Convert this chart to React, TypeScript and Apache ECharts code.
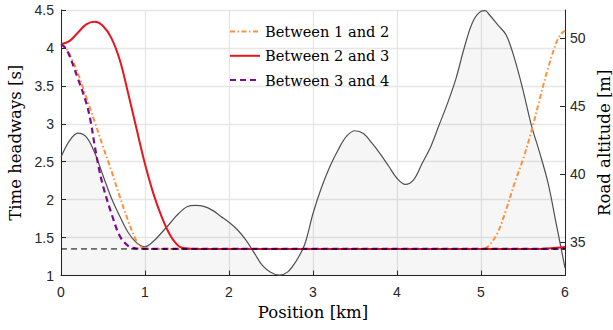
import React, { useEffect, useRef } from "react";
import * as echarts from "echarts";

// ---- data ----
const legendNames = ["Between 1 and 2", "Between 2 and 3", "Between 3 and 4"];

const orangeKm = [0, 0.05, 0.1, 0.2, 0.3, 0.4, 0.5, 0.6, 0.7, 0.8, 0.9, 0.95, 1.0, 1.1, 2, 3, 4, 5.0, 5.05, 5.1, 5.2, 5.3, 5.4, 5.5, 5.6, 5.7, 5.8, 5.9, 5.95, 6.0];
const orangeH = [4.05, 4.01, 3.92, 3.67, 3.35, 3.03, 2.7, 2.38, 2.04, 1.72, 1.45, 1.38, 1.355, 1.35, 1.35, 1.35, 1.35, 1.35, 1.36, 1.4, 1.57, 1.87, 2.22, 2.53, 2.9, 3.33, 3.74, 4.08, 4.18, 4.23];

const redKm = [0, 0.1, 0.2, 0.3, 0.4, 0.5, 0.6, 0.7, 0.8, 0.9, 1.0, 1.1, 1.2, 1.3, 1.4, 1.5, 1.6, 2, 3, 4, 5, 5.7, 5.8, 5.9, 6.0];
const redH = [4.05, 4.09, 4.2, 4.31, 4.345, 4.29, 4.13, 3.84, 3.4, 2.93, 2.47, 2.08, 1.77, 1.53, 1.39, 1.355, 1.35, 1.35, 1.35, 1.35, 1.35, 1.35, 1.355, 1.365, 1.375];

const purpleKm = [0, 0.05, 0.1, 0.2, 0.3, 0.35, 0.4, 0.45, 0.5, 0.6, 0.7, 0.8, 0.9, 1.0, 2, 3, 4, 5, 6];
const purpleH = [4.05, 4.0, 3.9, 3.6, 3.28, 3.05, 2.72, 2.42, 2.18, 1.82, 1.52, 1.39, 1.355, 1.35, 1.35, 1.35, 1.35, 1.35, 1.35];

const refKm = [0, 6];
const refH = [1.35, 1.35];

const altKm = [0, 0.1, 0.2, 0.3, 0.4, 0.5, 0.6, 0.7, 0.8, 0.9, 1.0, 1.1, 1.2, 1.3, 1.4, 1.5, 1.6, 1.7, 1.8, 1.9, 2.0, 2.1, 2.2, 2.3, 2.4, 2.5, 2.6, 2.7, 2.8, 2.9, 3.0, 3.1, 3.2, 3.3, 3.4, 3.5, 3.6, 3.7, 3.8, 3.9, 4.0, 4.1, 4.2, 4.3, 4.4, 4.5, 4.6, 4.7, 4.8, 4.9, 5.0, 5.05, 5.1, 5.2, 5.3, 5.4, 5.5, 5.6, 5.7, 5.8, 5.9, 6.0];
const altM = [41.25, 42.45, 43.03, 42.75, 41.6, 39.9, 38.25, 36.9, 35.7, 34.95, 34.65, 35.05, 35.7, 36.4, 37.1, 37.6, 37.7, 37.62, 37.35, 36.9, 36.45, 35.9, 35.15, 34.2, 33.25, 32.75, 32.56, 32.8, 33.6, 34.8, 37.1, 39.0, 40.55, 41.8, 42.8, 43.2, 43.0, 42.3, 41.5, 40.6, 39.7, 39.25, 39.6, 40.8, 42.0, 43.6, 45.2, 47.0, 49.3, 51.2, 52.0, 52.05, 51.75, 51.0, 50.25, 48.5, 46.2, 43.6, 41.55, 39.3, 36.2, 33.1];

const rightTicks = [35, 40, 45, 50];

const pair = (xs: number[], ys: number[]) => xs.map((x, i) => [x, ys[i]]);

const SERIF = "DejaVu Serif";
const SANS = "Liberation Sans";
const AXIS = "#262626";

export default function App() {
  const ref = useRef<HTMLDivElement>(null);
  useEffect(() => {
    if (!ref.current) return;
    const chart = echarts.init(ref.current, undefined, { renderer: "svg" });
    const option: any = {
      animation: false,
      backgroundColor: "#ffffff",
      grid: { left: 61, right: 48, top: 10, bottom: 54.5, containLabel: false, outerBoundsMode: "none" },
      legend: {
        data: legendNames,
        orient: "vertical",
        left: 229,
        top: 24,
        padding: 0,
        itemWidth: 30,
        itemHeight: 14,
        itemGap: 9.3,
        itemStyle: { opacity: 0 },
        textStyle: { fontFamily: SERIF, fontSize: 14.6, color: "#000", lineHeight: 14 },
      },
      xAxis: {
        type: "value",
        min: 0,
        max: 6,
        interval: 1,
        name: "Position [km]",
        nameLocation: "middle",
        nameGap: 28,
        nameTextStyle: { fontFamily: SERIF, fontSize: 16.5, color: "#000" },
        axisLine: { show: true, onZero: false, lineStyle: { color: AXIS, width: 1 } },
        axisTick: { show: true, inside: true, length: 5, lineStyle: { color: AXIS } },
        axisLabel: { fontFamily: SANS, fontSize: 14, color: AXIS, margin: 9 },
        splitLine: { show: true, lineStyle: { color: "#e6e6e6", width: 1.3 } },
      },
      yAxis: [
        {
          type: "value",
          min: 1,
          max: 4.5,
          interval: 0.5,
          name: "Time headways [s]",
          nameLocation: "middle",
          nameRotate: 90,
          nameGap: 32,
          nameTextStyle: { fontFamily: SERIF, fontSize: 16.5, color: "#000" },
          axisLine: { show: true, onZero: false, lineStyle: { color: AXIS, width: 1 } },
          axisTick: { show: true, inside: true, length: 5, lineStyle: { color: AXIS } },
          axisLabel: { fontFamily: SANS, fontSize: 14, color: AXIS, margin: 7 },
          splitLine: { show: true, lineStyle: { color: "#e6e6e6", width: 1.3 } },
        },
        {
          type: "value",
          position: "right",
          min: 32.53,
          max: 52.1,
          name: "Road altitude [m]",
          nameLocation: "middle",
          nameRotate: 90,
          nameGap: 30,
          nameTextStyle: { fontFamily: SERIF, fontSize: 16.5, color: "#000" },
          axisLine: { show: true, onZero: false, lineStyle: { color: AXIS, width: 1 } },
          axisTick: { show: true, inside: true, length: 5, customValues: rightTicks, lineStyle: { color: AXIS } },
          axisLabel: { fontFamily: SANS, fontSize: 14, color: AXIS, margin: 5, customValues: rightTicks },
          splitLine: { show: false },
        },
      ],
      series: [
        {
          name: "Road altitude",
          type: "line",
          yAxisIndex: 1,
          data: pair(altKm, altM),
          smooth: 0.35,
          symbol: "none",
          lineStyle: { color: "#505050", width: 1.2 },
          areaStyle: { color: "rgba(0,0,0,0.05)", origin: "start" },
          z: 1,
        },
        {
          name: legendNames[0],
          type: "line",
          data: pair(orangeKm, orangeH),
          smooth: 0.35,
          symbol: "none",
          color: "#ff9038",
          lineStyle: { color: "#ff9038", width: 2, type: [5, 2.5, 1.5, 2.5] },
          z: 2,
        },
        {
          name: legendNames[1],
          type: "line",
          data: pair(redKm, redH),
          smooth: 0.35,
          symbol: "none",
          color: "#e8161c",
          lineStyle: { color: "#e8161c", width: 2 },
          z: 3,
        },
        {
          name: legendNames[2],
          type: "line",
          data: pair(purpleKm, purpleH),
          smooth: 0.35,
          symbol: "none",
          color: "#7e0a8c",
          lineStyle: { color: "#7e0a8c", width: 2.2, type: [6, 4] },
          z: 4,
        },
        {
          name: "reference",
          type: "line",
          data: pair(refKm, refH),
          symbol: "none",
          lineStyle: { color: "#000", width: 1, type: [6, 4] },
          z: 5,
        },
      ],
    };
    chart.setOption(option);
    return () => chart.dispose();
  }, []);
  return (
    <div
      ref={ref}
      style={{ position: "fixed", left: 0, top: 0, width: 613, height: 330 }}
    />
  );
}
